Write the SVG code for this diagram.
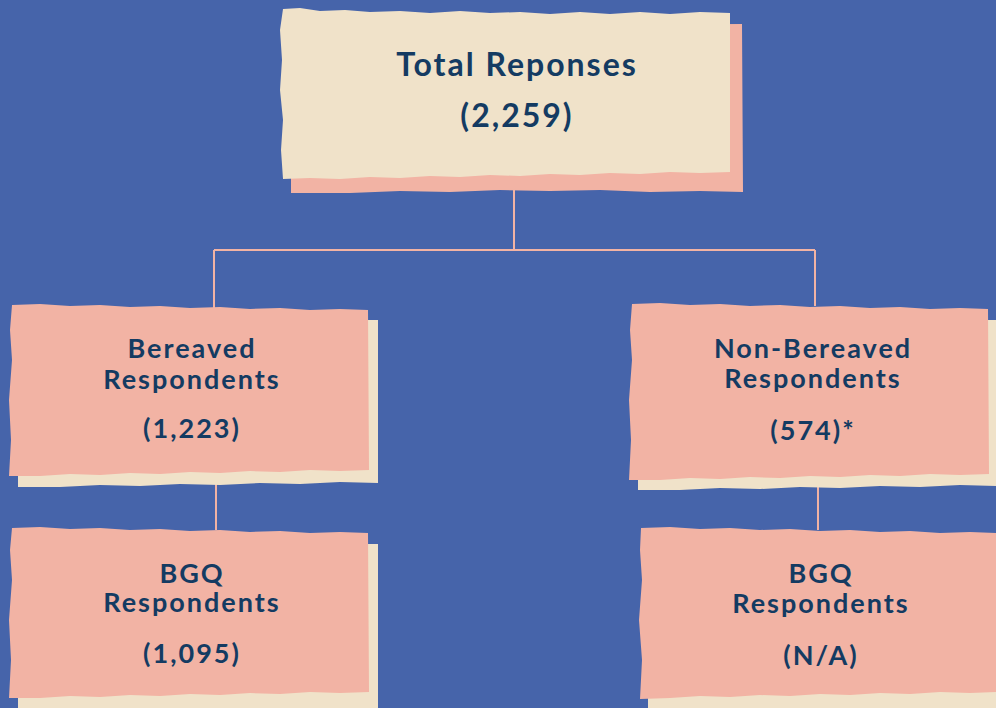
<svg xmlns="http://www.w3.org/2000/svg" width="996" height="708" viewBox="0 0 996 708">
<style>
.cream{fill:#F0E2C9}
.pink{fill:#F2B3A4}
.conn{stroke:#F2B3A4;stroke-width:2;fill:none}
text{font-family:Lato,"Open Sans",sans-serif;font-weight:700;fill:#143B62;text-anchor:middle}
.t1{font-size:32px;letter-spacing:2px}
.t2{font-size:27px;letter-spacing:2px}
</style>
<rect width="996" height="708" fill="#4664AA"/>
<g id="connectors">
<path class="conn" d="M514,180 V250 M214,250 H815 M214,250 V310 M815,250 V306 M216,470 V530 M818,474 V530"/>
</g>
<g id="total">
<path class="pink" d="M291,26 L742,24 L743,192 L700,191 L650,192 L600,190 L550,191 L500,190 L450,192 L400,191 L350,193 L291,193 Z"/>
<path class="cream" d="M283,9 L300,8 L320,11 L345,10 L370,12 L400,11 L430,13 L460,11 L490,13 L520,12 L550,14 L580,12 L610,14 L640,12 L670,14 L700,12 L730,13 L730,172 L700,173 L670,172 L640,174 L610,173 L580,175 L550,174 L520,176 L490,175 L460,177 L430,176 L400,178 L370,177 L340,179 L310,178 L283,179 L281,150 L283,120 L280,90 L282,60 L280,30 Z"/>
<text class="t1" x="517" y="76">Total Reponses</text>
<text class="t1" x="517" y="127">(2,259)</text>
</g>
<g id="bereaved">
<path class="cream" d="M18,320 L378,320 L378,483 L340,482 L300,484 L260,483 L220,485 L180,484 L140,486 L100,485 L60,487 L18,487 Z"/>
<path class="pink" d="M12,305 L40,304 L70,306 L100,305 L130,307 L160,306 L190,308 L220,307 L250,309 L280,308 L310,310 L340,309 L368,310 L369,470 L340,471 L310,470 L280,472 L250,471 L220,473 L190,472 L160,474 L130,473 L100,475 L70,474 L40,476 L9,476 L11,440 L9,400 L12,360 L10,330 Z"/>
<text class="t2" x="192" y="358">Bereaved</text>
<text class="t2" x="192" y="389">Respondents</text>
<text class="t2" x="192" y="438">(1,223)</text>
</g>
<g id="nonbereaved">
<path class="cream" d="M638,320 L996,320 L996,486 L960,485 L920,487 L880,486 L840,488 L800,487 L760,489 L720,488 L680,490 L638,490 Z"/>
<path class="pink" d="M632,304 L660,303 L690,305 L720,304 L750,306 L780,305 L810,307 L840,306 L870,308 L900,307 L930,309 L960,308 L988,309 L989,474 L960,475 L930,474 L900,476 L870,475 L840,477 L810,476 L780,478 L750,477 L720,479 L690,478 L660,480 L629,480 L631,440 L629,400 L632,360 L630,330 Z"/>
<text class="t2" x="813" y="358">Non-Bereaved</text>
<text class="t2" x="813" y="388">Respondents</text>
<text class="t2" x="813" y="440">(574)*</text>
</g>
<g id="bgq-left">
<path class="cream" d="M18,544 L378,544 L378,708 L18,708 Z"/>
<path class="pink" d="M12,528 L40,527 L70,529 L100,528 L130,530 L160,529 L190,531 L220,530 L250,532 L280,531 L310,533 L340,532 L368,533 L369,692 L340,693 L310,692 L280,694 L250,693 L220,695 L190,694 L160,696 L130,695 L100,697 L70,696 L40,698 L9,698 L11,660 L9,620 L12,580 L10,550 Z"/>
<text class="t2" x="192" y="583">BGQ</text>
<text class="t2" x="192" y="612">Respondents</text>
<text class="t2" x="192" y="663">(1,095)</text>
</g>
<g id="bgq-right">
<path class="cream" d="M648,560 L996,560 L996,708 L648,708 Z"/>
<path class="pink" d="M641,528 L670,527 L700,529 L730,528 L760,530 L790,529 L820,531 L850,530 L880,532 L910,531 L940,533 L970,532 L996,533 L996,692 L970,693 L940,692 L910,694 L880,693 L850,695 L820,694 L790,696 L760,695 L730,697 L700,696 L670,698 L640,699 L642,660 L639,620 L642,580 L640,550 Z"/>
<text class="t2" x="821" y="583">BGQ</text>
<text class="t2" x="821" y="613">Respondents</text>
<text class="t2" x="821" y="665">(N/A)</text>
</g>
</svg>
